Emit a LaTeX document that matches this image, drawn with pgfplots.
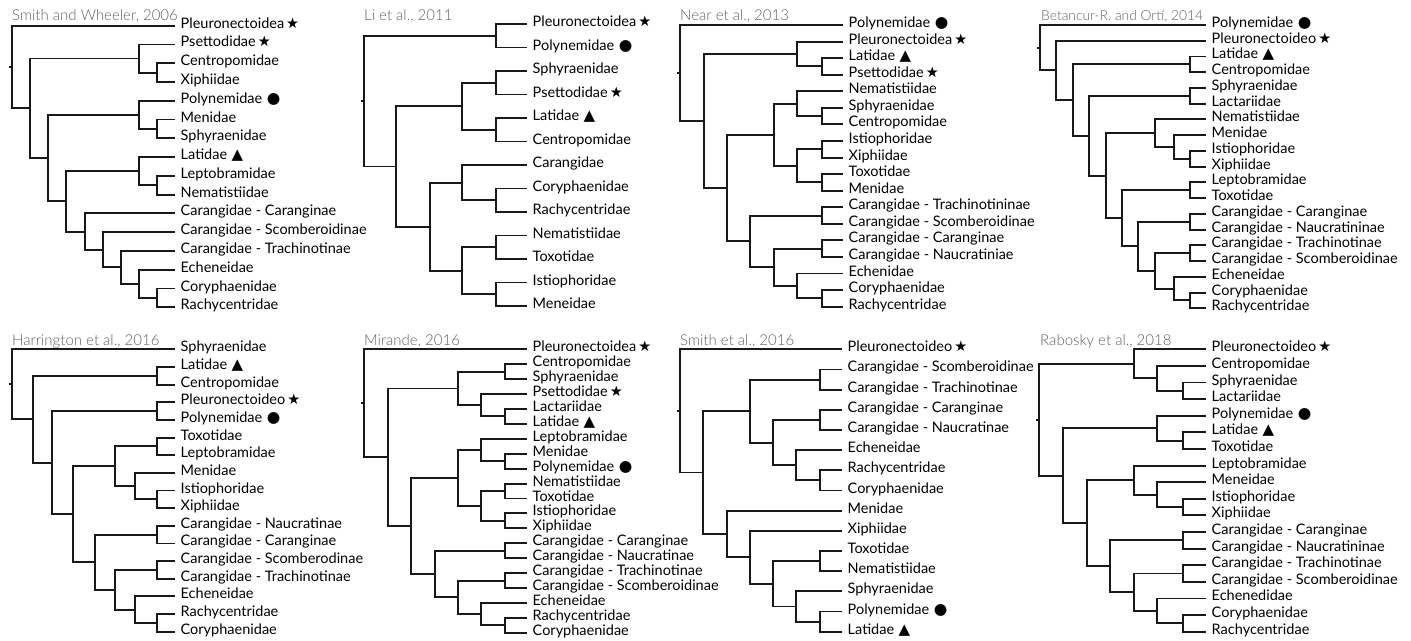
\documentclass[border=0pt]{standalone}
\usepackage{fontspec}
\setmainfont{Lato}
\IfFontExistsTF{Lato Light}{\newfontfamily\titlefont{Lato Light}}{\newfontfamily\titlefont{Lato}}
\newfontfamily\symfont{DejaVu Sans}
\usepackage{pgfplots}
\pgfplotsset{compat=1.18}
\DeclareRobustCommand\symStar{\hspace{2bp}{\symfont\fontsize{14.5bp}{14.5bp}\selectfont ★}}
\DeclareRobustCommand\symDot{\hspace{4.5bp}{\symfont\fontsize{15.5bp}{15.5bp}\selectfont ●}}
\DeclareRobustCommand\symTri{\hspace{4.5bp}{\symfont\fontsize{15bp}{15bp}\selectfont ▲}}
\newcommand\lbl{\fontsize{14.5bp}{16bp}\selectfont}
\newcommand\ttl{\titlefont\fontsize{15bp}{16bp}\selectfont}
\tikzset{ttlnode/.style={anchor=base west, inner sep=0pt, text=black!62, font=\ttl}}
\pgfplotsset{
 panel/.style={hide axis, scale only axis, clip=false, xmin=0, xmax=1411, width=1411bp, y dir=reverse, anchor=center},
 row1/.style={height=320bp, at={(705.5bp,481bp)}},
 row2/.style={height=321bp, at={(705.5bp,160.5bp)}},
 tree/.style={draw=black!90, line width=1.9bp, mark=none, unbounded coords=jump, line join=miter, line cap=butt},
 tips/.style={draw=none, mark=none, nodes near coords, point meta=explicit symbolic,
   nodes near coords style={anchor=mid west, inner sep=0pt, xshift=5.5bp, text=black, font=\lbl}},
}
\begin{document}
\begin{tikzpicture}
\path[use as bounding box] (0,0) rectangle (1411bp,641bp);
% ---------- Panel 1: Smith and Wheeler, 2006
\begin{axis}[panel, row1, ymin=-1.3692, ymax=15.6793]
\addplot[tree] coordinates {
(175,0)(12,0)(12,4.402)(30,4.402) (0,nan)
(139,1.75)(30,1.75)(30,7.055)(48,7.055) (0,nan)
(175,1)(139,1)(139,2.5)(157,2.5) (0,nan)
(175,2)(157,2)(157,3)(175,3) (0,nan)
(139,4.75)(48,4.75)(48,9.359)(66,9.359) (0,nan)
(175,4)(139,4)(139,5.5)(157,5.5) (0,nan)
(175,5)(157,5)(157,6)(175,6) (0,nan)
(139,7.75)(66,7.75)(66,10.969)(85,10.969) (0,nan)
(175,7)(139,7)(139,8.5)(157,8.5) (0,nan)
(175,8)(157,8)(157,9)(175,9) (0,nan)
(175,10)(85,10)(85,11.938)(103,11.938) (0,nan)
(175,11)(103,11)(103,12.875)(121,12.875) (0,nan)
(175,12)(121,12)(121,13.75)(139,13.75) (0,nan)
(175,13)(139,13)(139,14.5)(157,14.5) (0,nan)
(175,14)(157,14)(157,15)(175,15) (0,nan)
(9,2.201)(12,2.201)
};
\addplot[tips] coordinates {
(175,0) [Pleuronectoidea\symStar]
(175,1) [Psettodidae\symStar]
(175,2) [Centropomidae]
(175,3) [Xiphiidae]
(175,4) [Polynemidae\symDot]
(175,5) [Menidae]
(175,6) [Sphyraenidae]
(175,7) [Latidae\symTri]
(175,8) [Leptobramidae]
(175,9) [Nematistiidae]
(175,10) [Carangidae - Caranginae]
(175,11) [Carangidae - Scomberoidinae]
(175,12) [Carangidae - Trachinotinae]
(175,13) [Echeneidae]
(175,14) [Coryphaenidae]
(175,15) [Rachycentridae]
};
\node[ttlnode] at (axis cs:12,-0.266) {Smith and Wheeler, 2006};
\end{axis}
% ---------- Panel 2: Li et al., 2011
\begin{axis}[panel, row1, ymin=-1.0213, ymax=12.5957]
\addplot[tree] coordinates {
(496,0.5)(364,0.5)(364,6.0625)(396,6.0625) (0,nan)
(527,0)(496,0)(496,1)(527,1) (0,nan)
(462,3.5)(396,3.5)(396,8.625)(430,8.625) (0,nan)
(496,2.5)(462,2.5)(462,4.5)(496,4.5) (0,nan)
(527,2)(496,2)(496,3)(527,3) (0,nan)
(527,4)(496,4)(496,5)(527,5) (0,nan)
(462,6.75)(430,6.75)(430,10.5)(462,10.5) (0,nan)
(527,6)(462,6)(462,7.5)(496,7.5) (0,nan)
(527,7)(496,7)(496,8)(527,8) (0,nan)
(496,9.5)(462,9.5)(462,11.5)(496,11.5) (0,nan)
(527,9)(496,9)(496,10)(527,10) (0,nan)
(527,11)(496,11)(496,12)(527,12) (0,nan)
(361,3.281)(364,3.281)
};
\addplot[tips] coordinates {
(527,0) [Pleuronectoidea\symStar]
(527,1) [Polynemidae\symDot]
(527,2) [Sphyraenidae]
(527,3) [Psettodidae\symStar]
(527,4) [Latidae\symTri]
(527,5) [Centropomidae]
(527,6) [Carangidae]
(527,7) [Coryphaenidae]
(527,8) [Rachycentridae]
(527,9) [Nematistiidae]
(527,10) [Toxotidae]
(527,11) [Istiophoridae]
(527,12) [Meneidae]
};
\node[ttlnode] at (axis cs:364,-0.140) {Li et al., 2011};
\end{axis}
% ---------- Panel 3: Near et al., 2013
\begin{axis}[panel, row1, ymin=-1.5088, ymax=17.8033]
\addplot[tree] coordinates {
(843,0)(680,0)(680,5.797)(704,5.797) (0,nan)
(797,1.75)(704,1.75)(704,9.844)(727,9.844) (0,nan)
(843,1)(797,1)(797,2.5)(822,2.5) (0,nan)
(843,2)(822,2)(822,3)(843,3) (0,nan)
(774,6.625)(727,6.625)(727,13.0625)(750,13.0625) (0,nan)
(797,4.75)(774,4.75)(774,8.5)(797,8.5) (0,nan)
(843,4)(797,4)(797,5.5)(822,5.5) (0,nan)
(843,5)(822,5)(822,6)(843,6) (0,nan)
(822,7.5)(797,7.5)(797,9.5)(822,9.5) (0,nan)
(843,7)(822,7)(822,8)(843,8) (0,nan)
(843,9)(822,9)(822,10)(843,10) (0,nan)
(822,11.5)(750,11.5)(750,14.625)(774,14.625) (0,nan)
(843,11)(822,11)(822,12)(843,12) (0,nan)
(822,13.5)(774,13.5)(774,15.75)(797,15.75) (0,nan)
(843,13)(822,13)(822,14)(843,14) (0,nan)
(843,15)(797,15)(797,16.5)(822,16.5) (0,nan)
(843,16)(822,16)(822,17)(843,17) (0,nan)
(677,2.898)(680,2.898)
};
\addplot[tips] coordinates {
(843,0) [Polynemidae\symDot]
(843,1) [Pleuronectoidea\symStar]
(843,2) [Latidae\symTri]
(843,3) [Psettodidae\symStar]
(843,4) [Nematistiidae]
(843,5) [Sphyraenidae]
(843,6) [Centropomidae]
(843,7) [Istiophoridae]
(843,8) [Xiphiidae]
(843,9) [Toxotidae]
(843,10) [Menidae]
(843,11) [Carangidae - Trachinotininae]
(843,12) [Carangidae - Scomberoidinae]
(843,13) [Carangidae - Caranginae]
(843,14) [Carangidae - Naucratiniae]
(843,15) [Echenidae]
(843,16) [Coryphaenidae]
(843,17) [Rachycentridae]
};
\node[ttlnode] at (axis cs:680,-0.260) {Near et al., 2013};
\end{axis}
% ---------- Panel 4: Betancur-R. and Orti, 2014
\begin{axis}[panel, row1, ymin=-1.5883, ymax=18.7421]
\addplot[tree] coordinates {
(1206,0)(1040,0)(1040,2.885)(1056,2.885) (0,nan)
(1206,1)(1056,1)(1056,4.770)(1073,4.770) (0,nan)
(1190,2.5)(1073,2.5)(1073,7.039)(1089,7.039) (0,nan)
(1206,2)(1190,2)(1190,3)(1206,3) (0,nan)
(1190,4.5)(1089,4.5)(1089,9.578)(1106,9.578) (0,nan)
(1206,4)(1190,4)(1190,5)(1206,5) (0,nan)
(1155,6.875)(1106,6.875)(1106,12.281)(1122,12.281) (0,nan)
(1206,6)(1155,6)(1155,7.75)(1174,7.75) (0,nan)
(1206,7)(1174,7)(1174,8.5)(1190,8.5) (0,nan)
(1206,8)(1190,8)(1190,9)(1206,9) (0,nan)
(1190,10.5)(1122,10.5)(1122,14.0625)(1138,14.0625) (0,nan)
(1206,10)(1190,10)(1190,11)(1206,11) (0,nan)
(1190,12.5)(1138,12.5)(1138,15.625)(1155,15.625) (0,nan)
(1206,12)(1190,12)(1190,13)(1206,13) (0,nan)
(1190,14.5)(1155,14.5)(1155,16.75)(1174,16.75) (0,nan)
(1206,14)(1190,14)(1190,15)(1206,15) (0,nan)
(1206,16)(1174,16)(1174,17.5)(1190,17.5) (0,nan)
(1206,17)(1190,17)(1190,18)(1206,18) (0,nan)
(1037,1.442)(1040,1.442)
};
\addplot[tips] coordinates {
(1206,0) [Polynemidae\symDot]
(1206,1) [Pleuronectoideo\symStar]
(1206,2) [Latidae\symTri]
(1206,3) [Centropomidae]
(1206,4) [Sphyraenidae]
(1206,5) [Lactariidae]
(1206,6) [Nematistiidae]
(1206,7) [Menidae]
(1206,8) [Istiophoridae]
(1206,9) [Xiphiidae]
(1206,10) [Leptobramidae]
(1206,11) [Toxotidae]
(1206,12) [Carangidae - Caranginae]
(1206,13) [Carangidae - Naucratininae]
(1206,14) [Carangidae - Trachinotinae]
(1206,15) [Carangidae - Scomberoidinae]
(1206,16) [Echeneidae]
(1206,17) [Coryphaenidae]
(1206,18) [Rachycentridae]
};
\node[ttlnode, font=\titlefont\fontsize{13.8bp}{16bp}\selectfont] at (axis cs:1041,-0.254) {Betancur-R. and Ortí, 2014};
\end{axis}
% ---------- Panel 5: Harrington et al., 2016
\begin{axis}[panel, row2, ymin=-1.6601, ymax=16.5269]
\addplot[tree] coordinates {
(175,0)(12,0)(12,3.961)(33,3.961) (0,nan)
(157,1.5)(33,1.5)(33,6.422)(52,6.422) (0,nan)
(175,1)(157,1)(157,2)(175,2) (0,nan)
(157,3.5)(52,3.5)(52,9.344)(73,9.344) (0,nan)
(175,3)(157,3)(157,4)(175,4) (0,nan)
(115,6.625)(73,6.625)(73,12.0625)(95,12.0625) (0,nan)
(157,5.5)(115,5.5)(115,7.75)(135,7.75) (0,nan)
(175,5)(157,5)(157,6)(175,6) (0,nan)
(175,7)(135,7)(135,8.5)(157,8.5) (0,nan)
(175,8)(157,8)(157,9)(175,9) (0,nan)
(157,10.5)(95,10.5)(95,13.625)(115,13.625) (0,nan)
(175,10)(157,10)(157,11)(175,11) (0,nan)
(157,12.5)(115,12.5)(115,14.75)(135,14.75) (0,nan)
(175,12)(157,12)(157,13)(175,13) (0,nan)
(175,14)(135,14)(135,15.5)(157,15.5) (0,nan)
(175,15)(157,15)(157,16)(175,16) (0,nan)
(9,1.980)(12,1.980)
};
\addplot[tips] coordinates {
(175,0) [Sphyraenidae]
(175,1) [Latidae\symTri]
(175,2) [Centropomidae]
(175,3) [Pleuronectoideo\symStar]
(175,4) [Polynemidae\symDot]
(175,5) [Toxotidae]
(175,6) [Leptobramidae]
(175,7) [Menidae]
(175,8) [Istiophoridae]
(175,9) [Xiphiidae]
(175,10) [Carangidae - Naucratinae]
(175,11) [Carangidae - Caranginae]
(175,12) [Carangidae - Scomberodinae]
(175,13) [Carangidae - Trachinotinae]
(175,14) [Echeneidae]
(175,15) [Rachycentridae]
(175,16) [Coryphaenidae]
};
\node[ttlnode] at (axis cs:12,-0.204) {Harrington et al., 2016};
\end{axis}
% ---------- Panel 6: Mirande, 2016
\begin{axis}[panel, row2, ymin=-1.9638, ymax=19.5509]
\addplot[tree] coordinates {
(527,0)(364,0)(364,7.234)(388,7.234) (0,nan)
(458,2.625)(388,2.625)(388,11.844)(411,11.844) (0,nan)
(505,1.5)(458,1.5)(458,3.75)(481,3.75) (0,nan)
(527,1)(505,1)(505,2)(527,2) (0,nan)
(527,3)(481,3)(481,4.5)(505,4.5) (0,nan)
(527,4)(505,4)(505,5)(527,5) (0,nan)
(458,8.625)(411,8.625)(411,15.0625)(435,15.0625) (0,nan)
(481,6.75)(458,6.75)(458,10.5)(481,10.5) (0,nan)
(527,6)(481,6)(481,7.5)(505,7.5) (0,nan)
(527,7)(505,7)(505,8)(527,8) (0,nan)
(505,9.5)(481,9.5)(481,11.5)(505,11.5) (0,nan)
(527,9)(505,9)(505,10)(527,10) (0,nan)
(527,11)(505,11)(505,12)(527,12) (0,nan)
(505,13.5)(435,13.5)(435,16.625)(458,16.625) (0,nan)
(527,13)(505,13)(505,14)(527,14) (0,nan)
(505,15.5)(458,15.5)(458,17.75)(481,17.75) (0,nan)
(527,15)(505,15)(505,16)(527,16) (0,nan)
(527,17)(481,17)(481,18.5)(505,18.5) (0,nan)
(527,18)(505,18)(505,19)(527,19) (0,nan)
(361,3.617)(364,3.617)
};
\addplot[tips] coordinates {
(527,0) [Pleuronectoidea\symStar]
(527,1) [Centropomidae]
(527,2) [Sphyraenidae]
(527,3) [Psettodidae\symStar]
(527,4) [Lactariidae]
(527,5) [Latidae\symTri]
(527,6) [Leptobramidae]
(527,7) [Menidae]
(527,8) [Polynemidae\symDot]
(527,9) [Nematistiidae]
(527,10) [Toxotidae]
(527,11) [Istiophoridae]
(527,12) [Xiphiidae]
(527,13) [Carangidae - Caranginae]
(527,14) [Carangidae - Naucratinae]
(527,15) [Carangidae - Trachinotinae]
(527,16) [Carangidae - Scomberoidinae]
(527,17) [Echeneidae]
(527,18) [Rachycentridae]
(527,19) [Coryphaenidae]
};
\node[ttlnode] at (axis cs:364,-0.241) {Mirande, 2016};
\end{axis}
% ---------- Panel 7: Smith et al., 2016
\begin{axis}[panel, row2, ymin=-1.4527, ymax=14.4621]
\addplot[tree] coordinates {
(842,0)(680,0)(680,6.109)(703,6.109) (0,nan)
(750,3.0625)(703,3.0625)(703,9.156)(727,9.156) (0,nan)
(820,1.5)(750,1.5)(750,4.625)(773,4.625) (0,nan)
(842,1)(820,1)(820,2)(842,2) (0,nan)
(820,3.5)(773,3.5)(773,5.75)(796,5.75) (0,nan)
(842,3)(820,3)(820,4)(842,4) (0,nan)
(842,5)(796,5)(796,6.5)(820,6.5) (0,nan)
(842,6)(820,6)(820,7)(842,7) (0,nan)
(842,8)(727,8)(727,10.3125)(750,10.3125) (0,nan)
(842,9)(750,9)(750,11.625)(773,11.625) (0,nan)
(820,10.5)(773,10.5)(773,12.75)(796,12.75) (0,nan)
(842,10)(820,10)(820,11)(842,11) (0,nan)
(842,12)(796,12)(796,13.5)(820,13.5) (0,nan)
(842,13)(820,13)(820,14)(842,14) (0,nan)
(677,3.055)(680,3.055)
};
\addplot[tips] coordinates {
(842,0) [Pleuronectoideo\symStar]
(842,1) [Carangidae - Scomberoidinae]
(842,2) [Carangidae - Trachinotinae]
(842,3) [Carangidae - Caranginae]
(842,4) [Carangidae - Naucratinae]
(842,5) [Echeneidae]
(842,6) [Rachycentridae]
(842,7) [Coryphaenidae]
(842,8) [Menidae]
(842,9) [Xiphiidae]
(842,10) [Toxotidae]
(842,11) [Nematistiidae]
(842,12) [Sphyraenidae]
(842,13) [Polynemidae\symDot]
(842,14) [Latidae\symTri]
};
\node[ttlnode] at (axis cs:680,-0.178) {Smith et al., 2016};
\end{axis}
% ---------- Panel 8: Rabosky et al., 2018
\begin{axis}[panel, row2, ymin=-1.7640, ymax=17.5617]
\addplot[tree] coordinates {
(1134,0.875)(1039,0.875)(1039,7.609)(1063,7.609) (0,nan)
(1206,0)(1134,0)(1134,1.75)(1157,1.75) (0,nan)
(1206,1)(1157,1)(1157,2.5)(1183,2.5) (0,nan)
(1206,2)(1183,2)(1183,3)(1206,3) (0,nan)
(1157,4.75)(1063,4.75)(1063,10.469)(1087,10.469) (0,nan)
(1206,4)(1157,4)(1157,5.5)(1183,5.5) (0,nan)
(1206,5)(1183,5)(1183,6)(1206,6) (0,nan)
(1134,7.875)(1087,7.875)(1087,13.0625)(1110,13.0625) (0,nan)
(1206,7)(1134,7)(1134,8.75)(1157,8.75) (0,nan)
(1206,8)(1157,8)(1157,9.5)(1183,9.5) (0,nan)
(1206,9)(1183,9)(1183,10)(1206,10) (0,nan)
(1183,11.5)(1110,11.5)(1110,14.625)(1134,14.625) (0,nan)
(1206,11)(1183,11)(1183,12)(1206,12) (0,nan)
(1183,13.5)(1134,13.5)(1134,15.75)(1157,15.75) (0,nan)
(1206,13)(1183,13)(1183,14)(1206,14) (0,nan)
(1206,15)(1157,15)(1157,16.5)(1183,16.5) (0,nan)
(1206,16)(1183,16)(1183,17)(1206,17) (0,nan)
(1036,4.242)(1039,4.242)
};
\addplot[tips] coordinates {
(1206,0) [Pleuronectoideo\symStar]
(1206,1) [Centropomidae]
(1206,2) [Sphyraenidae]
(1206,3) [Lactariidae]
(1206,4) [Polynemidae\symDot]
(1206,5) [Latidae\symTri]
(1206,6) [Toxotidae]
(1206,7) [Leptobramidae]
(1206,8) [Meneidae]
(1206,9) [Istiophoridae]
(1206,10) [Xiphiidae]
(1206,11) [Carangidae - Caranginae]
(1206,12) [Carangidae - Naucratininae]
(1206,13) [Carangidae - Trachinotinae]
(1206,14) [Carangidae - Scomberoidinae]
(1206,15) [Echenedidae]
(1206,16) [Coryphaenidae]
(1206,17) [Rachycentridae]
};
\node[ttlnode] at (axis cs:1040,-0.217) {Rabosky et al., 2018};
\end{axis}
\end{tikzpicture}
\end{document}
